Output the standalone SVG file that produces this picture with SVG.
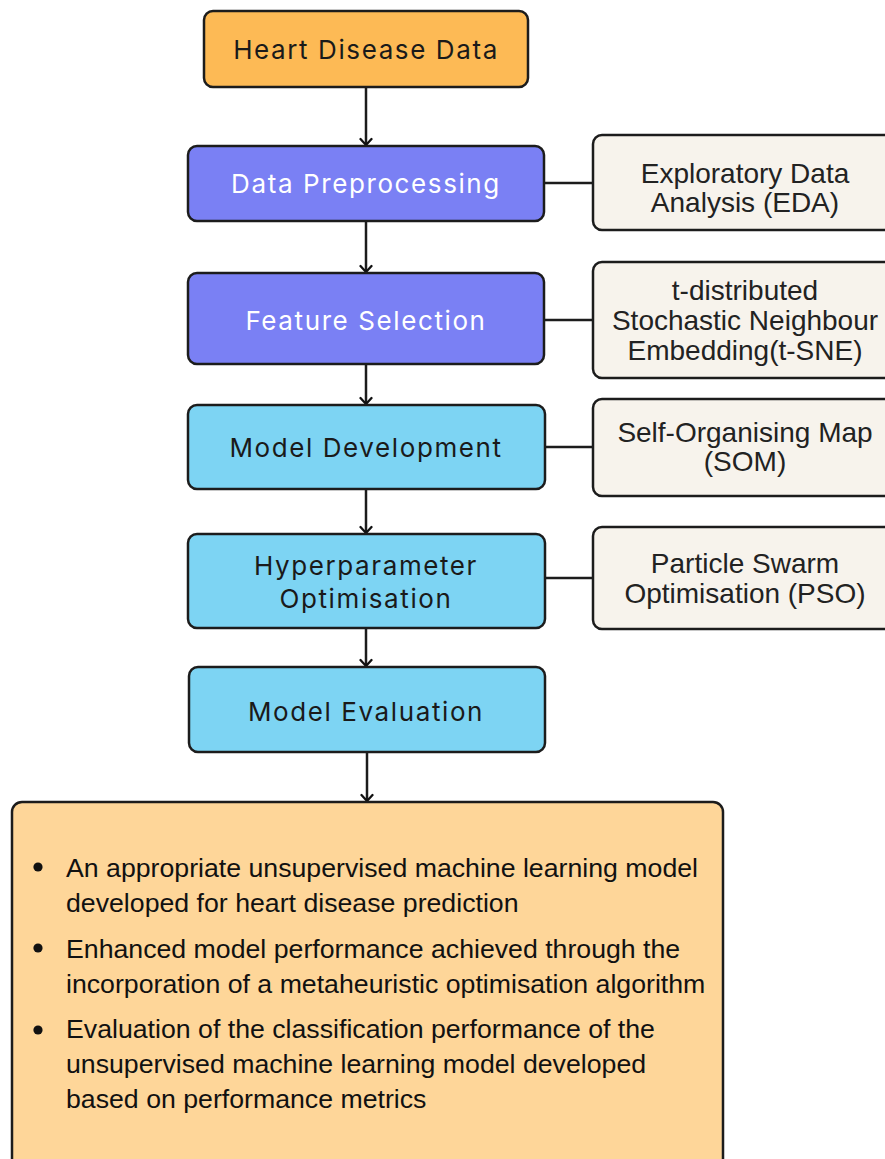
<svg xmlns="http://www.w3.org/2000/svg" width="885" height="1159" viewBox="0 0 885 1159">
<defs>
<marker id="arr" viewBox="0 0 14 14" refX="12.5" refY="7" markerWidth="14" markerHeight="14" markerUnits="userSpaceOnUse" orient="auto">
<path d="M6.5,1.5 L12.5,7 L6.5,12.5" fill="none" stroke="#111" stroke-width="2.3" stroke-linecap="round" stroke-linejoin="round"/>
</marker>
</defs>
<style>
.box{stroke:#1c1c1c;stroke-width:2.5}
.orange{fill:#FDBA55}
.purple{fill:#7A80F4}
.cyan{fill:#7DD4F3}
.side{fill:#F7F3EC}
.final{fill:#FED699}
.main{font-family:Inter,"Liberation Sans",sans-serif;font-size:26px;letter-spacing:1.6px;text-anchor:middle;fill:#1a1a1a}
.white{fill:#ffffff}
.st{font-family:"Liberation Sans",Arial,sans-serif;font-size:28px;text-anchor:middle;fill:#222}
.bt{font-family:"Liberation Sans",Arial,sans-serif;font-size:26.7px;fill:#111}
.conn{stroke:#1c1c1c;stroke-width:2.5;fill:none}
</style>
<rect width="885" height="1159" fill="#ffffff"/>
<g id="connectors">
<line class="conn" x1="366" y1="87" x2="366" y2="145" marker-end="url(#arr)"/>
<line class="conn" x1="366" y1="221" x2="366" y2="272" marker-end="url(#arr)"/>
<line class="conn" x1="366" y1="364" x2="366" y2="404" marker-end="url(#arr)"/>
<line class="conn" x1="366" y1="489" x2="366" y2="533" marker-end="url(#arr)"/>
<line class="conn" x1="366" y1="628" x2="366" y2="666" marker-end="url(#arr)"/>
<line class="conn" x1="367" y1="752" x2="367" y2="801" marker-end="url(#arr)"/>
<line class="conn" x1="544" y1="183" x2="593" y2="183"/>
<line class="conn" x1="544" y1="320" x2="593" y2="320"/>
<line class="conn" x1="545" y1="447" x2="593" y2="447"/>
<line class="conn" x1="545" y1="578" x2="593" y2="578"/>
</g>
<g id="heart-disease-data">
<rect class="box orange" x="204" y="11" width="324" height="76" rx="9"/>
<text class="main" x="366" y="59">Heart Disease Data</text>
</g>
<g id="data-preprocessing">
<rect class="box purple" x="188" y="146" width="356" height="75" rx="9"/>
<text class="main white" x="366" y="193">Data Preprocessing</text>
</g>
<g id="feature-selection">
<rect class="box purple" x="188" y="273" width="356" height="91" rx="9"/>
<text class="main white" x="366" y="330">Feature Selection</text>
</g>
<g id="model-development">
<rect class="box cyan" x="188" y="405" width="357" height="84" rx="9"/>
<text class="main" x="366" y="457">Model Development</text>
</g>
<g id="hyperparameter-optimisation">
<rect class="box cyan" x="188" y="534" width="357" height="94" rx="9"/>
<text class="main" x="366" y="575">Hyperparameter</text>
<text class="main" x="366" y="608">Optimisation</text>
</g>
<g id="model-evaluation">
<rect class="box cyan" x="189" y="667" width="356" height="85" rx="9"/>
<text class="main" x="366" y="721">Model Evaluation</text>
</g>
<g id="eda">
<rect class="box side" x="593" y="135" width="310" height="95" rx="9"/>
<text class="st" x="745" y="183">Exploratory Data</text>
<text class="st" x="745" y="212">Analysis (EDA)</text>
</g>
<g id="tsne">
<rect class="box side" x="593" y="262" width="310" height="116" rx="9"/>
<text class="st" x="745" y="300">t-distributed</text>
<text class="st" x="745" y="330">Stochastic Neighbour</text>
<text class="st" x="745" y="360">Embedding(t-SNE)</text>
</g>
<g id="som">
<rect class="box side" x="593" y="399" width="310" height="97" rx="9"/>
<text class="st" x="745" y="442">Self-Organising Map</text>
<text class="st" x="745" y="471">(SOM)</text>
</g>
<g id="pso">
<rect class="box side" x="593" y="527" width="310" height="102" rx="9"/>
<text class="st" x="745" y="573">Particle Swarm</text>
<text class="st" x="745" y="603">Optimisation (PSO)</text>
</g>
<g id="outcomes">
<rect class="box final" x="12" y="802" width="711" height="380" rx="10"/>
<circle cx="38" cy="867" r="4.6" fill="#111"/>
<circle cx="38" cy="948" r="4.6" fill="#111"/>
<circle cx="38" cy="1030" r="4.6" fill="#111"/>
<text class="bt" x="66" y="877">An appropriate unsupervised machine learning model</text>
<text class="bt" x="66" y="912">developed for heart disease prediction</text>
<text class="bt" x="66" y="958">Enhanced model performance achieved through the</text>
<text class="bt" x="66" y="993">incorporation of a metaheuristic optimisation algorithm</text>
<text class="bt" x="66" y="1038">Evaluation of the classification performance of the</text>
<text class="bt" x="66" y="1073">unsupervised machine learning model developed</text>
<text class="bt" x="66" y="1108">based on performance metrics</text>
</g>
</svg>
